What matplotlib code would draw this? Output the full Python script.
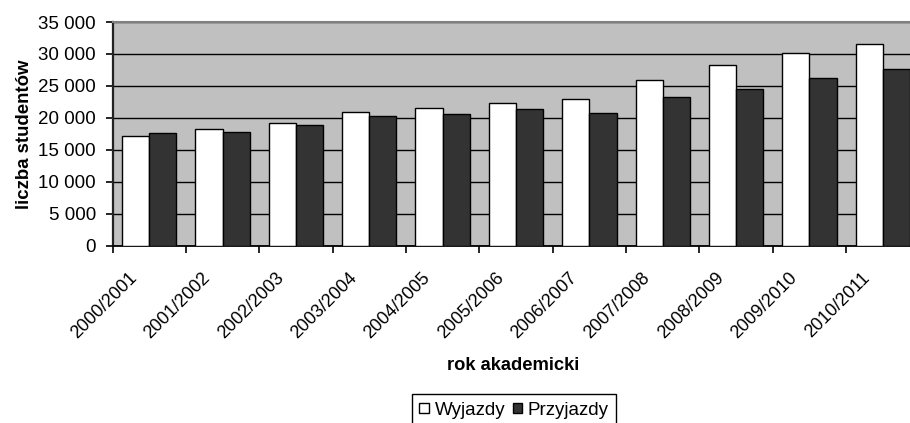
import numpy as np
import matplotlib
matplotlib.use('Agg')
import matplotlib.pyplot as plt
import matplotlib.transforms as mtransforms
from matplotlib.ticker import FuncFormatter, MultipleLocator

plt.rcParams['font.family'] = ['Liberation Sans', 'DejaVu Sans']

# Dane
lata = ['2000/2001', '2001/2002', '2002/2003', '2003/2004', '2004/2005',
        '2005/2006', '2006/2007', '2007/2008', '2008/2009', '2009/2010',
        '2010/2011']
wyjazdy = [17190, 18230, 19220, 20940, 21560, 22400, 23030, 25940, 28230, 30220, 31620]
przyjazdy = [17600, 17810, 18860, 20310, 20530, 21400, 20730, 23230, 24530, 26200, 27600]

fig = plt.figure(figsize=(9.1, 4.23), dpi=100)
# obszar wykresu wychodzi nieco poza prawą krawędź (jak w oryginale)
ax = fig.add_axes([112.5 / 910, 1 - 245.7 / 423, 807 / 910, (245.7 - 22) / 423])

x = np.arange(len(lata))
w = 0.37
ax.bar(x - 0.185, wyjazdy, w, color='white', edgecolor='black', linewidth=1.0,
       label='Wyjazdy', zorder=3)
ax.bar(x + 0.185, przyjazdy, w, color='#333333', edgecolor='black', linewidth=1.0,
       label='Przyjazdy', zorder=3)

ax.set_facecolor('#C0C0C0')
ax.set_xlim(-0.5, len(lata) - 0.5)
ax.set_ylim(0, 35000)
ax.yaxis.set_major_locator(MultipleLocator(5000))
ax.yaxis.set_major_formatter(FuncFormatter(lambda v, p: f'{int(v):,}'.replace(',', ' ')))
ax.grid(axis='y', color='black', linewidth=1.0, zorder=1)
ax.set_axisbelow(True)

for s in ['top', 'right']:
    ax.spines[s].set_color('#808080')
    ax.spines[s].set_linewidth(1.5)
ax.spines['left'].set_linewidth(1.6)
ax.spines['left'].set_color('#222222')
ax.spines['bottom'].set_linewidth(1.3)

# podziałki między kategoriami
ax.set_xticks(np.arange(-0.5, len(lata), 1.0))
ax.set_xticklabels([])
ax.tick_params(axis='x', which='major', length=5, direction='out', width=1.2)
ax.set_xticks(x, minor=True)
ax.set_xticklabels(lata, minor=True, rotation=45, ha='right',
                   rotation_mode='anchor', fontsize=13)
ax.tick_params(axis='x', which='minor', length=0, pad=12)
offset = mtransforms.ScaledTranslation(-0.21, -0.07, fig.dpi_scale_trans)
for lab in ax.get_xticklabels(minor=True):
    lab.set_transform(lab.get_transform() + offset)
ax.tick_params(axis='y', length=5, direction='out', width=1.2, labelsize=13.5, pad=7)

ax.set_ylabel('liczba studentów', fontsize=13.4, fontweight='bold', labelpad=4)
fig.text(513 / 910, 1 - 365 / 423, 'rok akademicki', fontsize=13.2,
         fontweight='bold', ha='center', va='center')

# legenda przycięta u dołu, jak w oryginale
leg = fig.legend(loc='upper center', bbox_to_anchor=(514 / 910, 1 - 394 / 423),
                 ncol=2, fontsize=13.5, frameon=True, fancybox=False,
                 edgecolor='black', framealpha=1, handlelength=0.5,
                 handleheight=0.5, handletextpad=0.3, columnspacing=0.4,
                 borderpad=0.4, borderaxespad=0)
leg.get_frame().set_linewidth(1.0)

fig.savefig('out.png', dpi=100)
